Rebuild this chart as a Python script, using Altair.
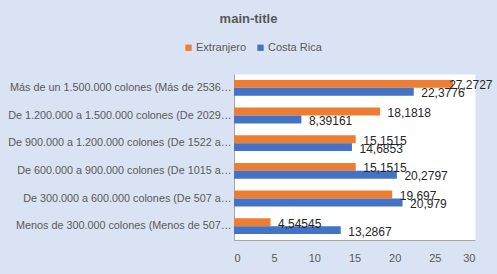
import altair as alt
import pandas as pd

categories = [
    "Más de un 1.500.000 colones (Más de 2536…",
    "De 1.200.000 a 1.500.000 colones (De 2029…",
    "De 900.000 a 1.200.000 colones (De 1522 a…",
    "De 600.000 a 900.000 colones (De 1015 a…",
    "De 300.000 a 600.000 colones (De 507 a…",
    "Menos de 300.000 colones (Menos de 507…",
]
series = ["Extranjero", "Costa Rica"]
extranjero = [27.2727, 18.1818, 15.1515, 15.1515, 19.697, 4.54545]
costa_rica = [22.3776, 8.39161, 14.6853, 20.2797, 20.979, 13.2867]
colors = ["#ED7D31", "#4472C4"]
x_ticks = [0, 5, 10, 15, 20, 25, 30]

rows = []
for c, e, r in zip(categories, extranjero, costa_rica):
    rows.append({"cat": c, "serie": "Extranjero", "value": e, "label": str(e).replace(".", ",")})
    rows.append({"cat": c, "serie": "Costa Rica", "value": r, "label": str(r).replace(".", ",")})
df = pd.DataFrame(rows)

FONT = "Liberation Sans"

y_enc = alt.Y("cat:N", sort=categories, title=None,
              scale=alt.Scale(paddingInner=0.43, paddingOuter=0.215),
              axis=alt.Axis(labelLimit=0, labelFont=FONT, labelFontSize=10.8,
                            labelColor="#595959", labelPadding=3, ticks=False,
                            domainColor="#A6A6A6", grid=False))
yoff = alt.YOffset("serie:N", sort=series, scale=alt.Scale(paddingInner=0, paddingOuter=0))

bars = alt.Chart(df).mark_bar().encode(
    y=y_enc,
    yOffset=yoff,
    x=alt.X("value:Q", title=None,
            scale=alt.Scale(domain=[0, 30], nice=False),
            axis=alt.Axis(values=x_ticks, labelFont=FONT, labelFontSize=11,
                          labelColor="#595959", labelPadding=12, ticks=False,
                          domainColor="#A6A6A6", grid=False)),
    color=alt.Color("serie:N", sort=series,
                    scale=alt.Scale(domain=series, range=colors),
                    legend=alt.Legend(title=None, orient="none", direction="horizontal",
                                      legendX=-51, legendY=-32, symbolType="square",
                                      symbolSize=40, symbolStrokeWidth=0,
                                      labelFont=FONT, labelFontSize=11,
                                      labelColor="#595959", columnPadding=8,
                                      labelOffset=2)),
)

text = alt.Chart(df).transform_calculate(
    lx="min(datum.value, 25.85)"
).mark_text(align="left", baseline="middle", dx=7.5, dy=1.5, font=FONT,
            fontSize=12, color="#262626").encode(
    y=alt.Y("cat:N", sort=categories),
    yOffset=alt.YOffset("serie:N", sort=series),
    x=alt.X("lx:Q"),
    text="label:N",
)

chart = alt.layer(bars, text).properties(
    width=241, height=166,
    background="#DAE3F3",
    padding={"left": 234, "top": 74, "right": 22, "bottom": 34},
    autosize=alt.AutoSizeParams(type="none"),
    title=alt.TitleParams("main-title", font=FONT, fontSize=13, fontWeight="bold",
                          color="#595959", anchor="middle", dx=-106, offset=16),
).configure_view(fill="white", stroke="transparent")

chart.save("out.html", embed_options={"renderer": "svg", "actions": False})
